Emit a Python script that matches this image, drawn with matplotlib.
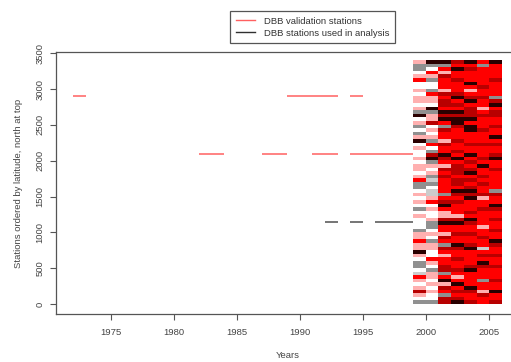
import numpy as np
import matplotlib
matplotlib.use("Agg")
import matplotlib.pyplot as plt
from matplotlib.colors import ListedColormap
from matplotlib.lines import Line2D

plt.rcParams['font.family'] = ['Liberation Sans', 'DejaVu Sans']

# sparse early records: (station, start year, end year)
val_station = [2900, 2900, 2900, 2100, 2100, 2100, 2100]
val_start = [1972, 1989, 1994, 1982, 1987, 1991, 1994]
val_end = [1973, 1993, 1995, 1984, 1989, 1993, 1999]

used_station = [1150, 1150, 1150]
used_start = [1992, 1994, 1996]
used_end = [1993, 1995, 1999]

# dense block 1999-2005: one string per year, each char = 50 stations, top (3400) to bottom (0)
# . white, p pink, r red, d dark red, k black, g gray, l light gray
years = [1999, 2000, 2001, 2002, 2003, 2004, 2005]
cover = {
    1999: "pgg.pr..p.pp.pgk." + "pg.gpk.p..p.pp.pr" + "gg.p.p.g.p...gppr" + "ppkp.gg.lrp.pdp.g",
    2000: "kg.rpg..grpp.kgpp" + "d.p.pgr.gdkgp.pgl" + "g.llpr.p..pgg.p.g" + "pp..rp.gpp.p.p..g",
    2001: "kgrpdrrrpdrddrkdk" + "rgdrrpdrrkdrpdrdr" + "rrrgrdkrppdkrrpdr" + "gdrprrddgrkpdrgdd",
    2002: "drkrrdrrrdkrdrkdk" + "kdrrrdrrdrkrdddrd" + "drkdrdrrrpdkrrdrr" + "kdrrdrrdrprkrdrdk",
    2003: "krdrrrkrprdkrdddk" + "rkkrrrdrrkrdrdkrd" + "rdkdkrrrdrkdrrdrr" + "dkrrrrdkrrrrkdrrd",
    2004: "rgrrrrrdrrdrrprdr" + "rrdrrrdrrrdrkrrdr" + "drrdprrdrrrrprrdr" + "rlrdrkdrrrgrrpdrr",
    2005: "krrrrdrrrrgdkrddr" + "rdrrkrdrrdkrrdrrr" + "rrgdrrkdrrdrrdrrk" + "drrdrrdrrrdrrkrrd",
}
codes = ".prdkgl"
colors = ['#ffffff', '#ffb0b0', '#ff0000', '#b80000', '#2a0000', '#909090', '#cccccc']

fig = plt.figure(figsize=(5.11, 3.62), dpi=100)
ax = fig.add_axes([56/511, 1-314/362, (519-56)/511, (314-52)/362])

grid = np.array([[codes.index(c) for c in cover[y]] for y in years]).T
ax.imshow(grid, extent=[1999, 2006, 0, 3400], aspect='auto', interpolation='nearest',
          cmap=ListedColormap(colors), vmin=-0.5, vmax=len(colors)-0.5, zorder=1)

ax.hlines(val_station, val_start, val_end, colors='#ff6060', lw=1.1, zorder=2)
ax.hlines(used_station, used_start, used_end, colors='#505050', lw=1.1, zorder=2)

ax.set_xlim(1970.64, 2007.4)
ax.set_ylim(-139, 3518)
ax.set_xticks([1975, 1980, 1985, 1990, 1995, 2000, 2005])
ax.set_yticks(np.arange(0, 3501, 500))
ax.set_yticklabels([str(v) for v in range(0, 3501, 500)], rotation=90, va='center')
for s in ax.spines.values():
    s.set_color('#555555')
    s.set_linewidth(0.9)
ax.tick_params(colors='#555555', labelcolor='#444444', labelsize=6.8, length=4, width=0.8)
ax.tick_params(axis='y', pad=4.5)
ax.tick_params(axis='x', pad=6)
ax.set_xlabel('Years', fontsize=6.8, color='#444444', labelpad=10)
ax.set_ylabel('Stations ordered by latitude, north at top', fontsize=6.8, color='#444444', labelpad=9)

handles = [Line2D([], [], color='#ff6060', lw=1), Line2D([], [], color='#303030', lw=1)]
leg = fig.legend(handles, ['DBB validation stations', 'DBB stations used in analysis'],
                 loc='upper left', bbox_to_anchor=(230/511, 1-11/362), borderaxespad=0,
                 fontsize=6.8, fancybox=False, framealpha=1, edgecolor='#555555',
                 handlelength=2.0, borderpad=0.6, labelspacing=0.3, handletextpad=1.0)
leg.get_frame().set_linewidth(0.9)
for t in leg.get_texts():
    t.set_color('#333333')

fig.savefig('out.png', dpi=100)
